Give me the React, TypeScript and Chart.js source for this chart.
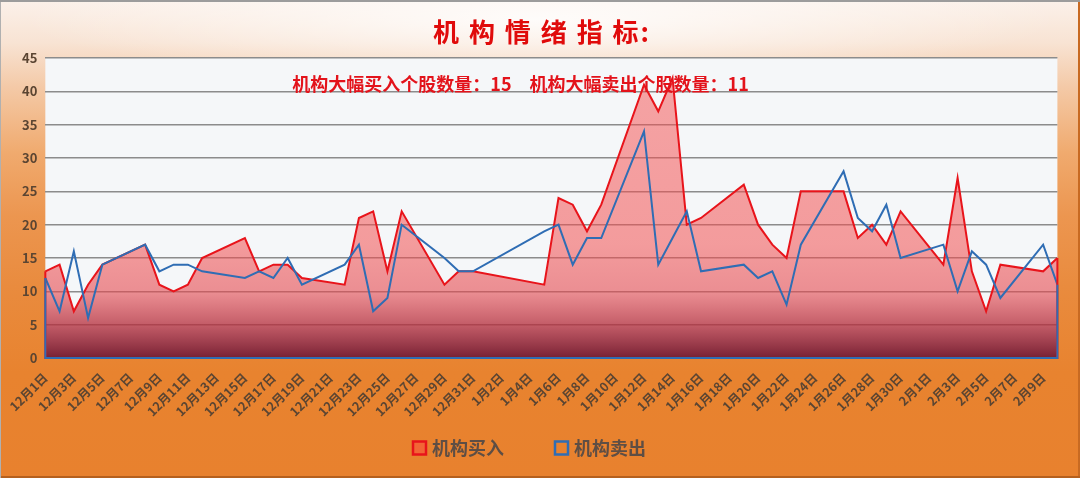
import React, { useEffect, useRef } from "react";
import { Chart, registerables } from "chart.js";

Chart.register(...registerables);

const FONT = '"Noto Sans CJK SC", "Noto Sans", sans-serif';

// Calendar days on the date axis (12月1日 … 2月10日)
const categories: string[] = [
  "12月1日", "12月2日", "12月3日", "12月4日", "12月5日", "12月6日", "12月7日", "12月8日",
  "12月9日", "12月10日", "12月11日", "12月12日", "12月13日", "12月14日", "12月15日", "12月16日",
  "12月17日", "12月18日", "12月19日", "12月20日", "12月21日", "12月22日", "12月23日", "12月24日",
  "12月25日", "12月26日", "12月27日", "12月28日", "12月29日", "12月30日", "12月31日",
  "1月1日", "1月2日", "1月3日", "1月4日", "1月5日", "1月6日", "1月7日", "1月8日",
  "1月9日", "1月10日", "1月11日", "1月12日", "1月13日", "1月14日", "1月15日", "1月16日",
  "1月17日", "1月18日", "1月19日", "1月20日", "1月21日", "1月22日", "1月23日", "1月24日",
  "1月25日", "1月26日", "1月27日", "1月28日", "1月29日", "1月30日", "1月31日",
  "2月1日", "2月2日", "2月3日", "2月4日", "2月5日", "2月6日", "2月7日", "2月8日",
  "2月9日", "2月10日",
];

// 机构买入 (null = no trading day)
const buyValues: (number | null)[] = [
  13, 14, 7, 11, 14, null, null, 17,
  11, 10, 11, 15, null, null, 18, 13,
  14, 14, 12, null, null, 11, 21, 22,
  13, 22, null, null, 11, 13, 13,
  null, null, null, null, 11, 24, 23, 19,
  23, null, null, 41, 37, 42, 20, 21,
  null, null, 26, 20, 17, 15, 25, null,
  null, 25, 18, 20, 17, 22, null,
  null, 14, 27, 13, 7, 14, null, null,
  13, 15,
];

// 机构卖出
const sellValues: (number | null)[] = [
  12, 7, 16, 6, 14, null, null, 17,
  13, 14, 14, 13, null, null, 12, 13,
  12, 15, 11, null, null, 14, 17, 7,
  9, 20, null, null, 15, 13, 13,
  null, null, null, null, 19, 20, 14, 18,
  18, null, null, 34, 14, 18, 22, 13,
  null, null, 14, 12, 13, 8, 17, null,
  null, 28, 21, 19, 23, 15, null,
  null, 17, 10, 16, 14, 9, null, null,
  17, 11,
];

const seriesNames: string[] = ["机构买入", "机构卖出"];
const titleText = "机 构 情 绪 指 标:";
const notePrefixes: string[] = ["机构大幅买入个股数量：", "机构大幅卖出个股数量："];

const lastValue = (arr: (number | null)[]) => {
  for (let i = arr.length - 1; i >= 0; i--) if (arr[i] != null) return arr[i];
  return null;
};

const plotBgPlugin = {
  id: "plotBg",
  beforeDraw(chart: any) {
    const { ctx, chartArea: a } = chart;
    if (!a) return;
    ctx.save();
    ctx.fillStyle = "#F5F7F9";
    ctx.fillRect(a.left, a.top, a.right - a.left, a.bottom - a.top);
    ctx.restore();
  },
};

const areaEdgesPlugin = {
  id: "areaEdges",
  afterDatasetsDraw(chart: any) {
    const { ctx } = chart;
    const base = chart.scales.y.getPixelForValue(0);
    chart.data.datasets.forEach((ds: any, i: number) => {
      const meta = chart.getDatasetMeta(i);
      const pts = meta.data.filter((_: any, j: number) => ds.data[j] != null);
      if (!pts.length) return;
      const f = pts[0];
      const l = pts[pts.length - 1];
      ctx.save();
      ctx.strokeStyle = ds.borderColor;
      ctx.lineWidth = 2;
      ctx.beginPath();
      ctx.moveTo(f.x, f.y);
      ctx.lineTo(f.x, base);
      ctx.lineTo(l.x, base);
      ctx.lineTo(l.x, l.y);
      ctx.stroke();
      ctx.restore();
    });
  },
};

const legendFills: string[] = ["rgba(250,80,60,0.55)", "rgba(0,0,0,0)"];

const legendPlugin = {
  id: "boxLegend",
  afterDraw(chart: any) {
    const { ctx, width } = chart;
    const y = 448;
    const box = 13;
    const x0 = width / 2 - 127;
    const step = 142;
    chart.data.datasets.forEach((ds: any, i: number) => {
      const x = x0 + i * step;
      ctx.save();
      ctx.lineWidth = 2.5;
      ctx.strokeStyle = ds.borderColor;
      ctx.fillStyle = legendFills[i];
      ctx.fillRect(x, y - box / 2, box, box);
      ctx.strokeRect(x, y - box / 2, box, box);
      ctx.font = `bold 18px ${FONT}`;
      ctx.fillStyle = "#5E4E44";
      ctx.textAlign = "left";
      ctx.textBaseline = "middle";
      ctx.fillText(ds.label, x + 19, y);
      ctx.restore();
    });
  },
};

const textPlugin = {
  id: "texts",
  afterDraw(chart: any) {
    const { ctx, chartArea: a, width } = chart;
    ctx.save();
    ctx.fillStyle = "#E00B0B";
    ctx.font = `bold 26px ${FONT}`;
    ctx.textAlign = "center";
    ctx.textBaseline = "middle";
    ctx.letterSpacing = "2px";
    ctx.fillText(titleText, width / 2 + 2, 32);
    ctx.letterSpacing = "0px";
    const note =
      notePrefixes[0] + lastValue(buyValues) + "\u3000" + notePrefixes[1] + lastValue(sellValues);
    ctx.font = `bold 18px ${FONT}`;
    ctx.fillStyle = "#E3131B";
    ctx.textAlign = "left";
    ctx.fillText(note, a.left + 247, a.top + 26);
    ctx.restore();
  },
};

export default function App() {
  const canvasRef = useRef<HTMLCanvasElement | null>(null);

  useEffect(() => {
    if (!canvasRef.current) return;
    const tickColor = "#5B4532";
    const chart = new Chart(canvasRef.current, {
      type: "line",
      data: {
        labels: categories,
        datasets: [
          {
            label: seriesNames[0],
            data: buyValues,
            borderColor: "#E8141B",
            borderWidth: 2,
            pointRadius: 0,
            tension: 0,
            spanGaps: true,
            fill: "origin",
            order: 1,
            backgroundColor: (c: any) => {
              const area = c.chart.chartArea;
              if (!area) return "rgba(240,90,90,0.5)";
              const g = c.chart.ctx.createLinearGradient(0, area.top, 0, area.bottom);
              g.addColorStop(0, "rgba(245,80,80,0.5)");
              g.addColorStop(0.62, "rgba(242,78,78,0.54)");
              g.addColorStop(0.78, "rgba(228,72,78,0.6)");
              g.addColorStop(0.89, "rgba(180,48,62,0.78)");
              g.addColorStop(1, "rgba(112,20,40,0.94)");
              return g;
            },
          },
          {
            label: seriesNames[1],
            data: sellValues,
            borderColor: "#2F6DB4",
            borderWidth: 2,
            pointRadius: 0,
            tension: 0,
            spanGaps: true,
            fill: false,
            order: 0,
          },
        ],
      },
      options: {
        animation: false,
        responsive: false,
        maintainAspectRatio: false,
        layout: { padding: { top: 58, left: 0, right: 13, bottom: 60 } },
        plugins: {
          tooltip: { enabled: false },
          title: { display: false },
          legend: { display: false },
        },
        scales: {
          x: {
            type: "category",
            offset: false,
            grid: { display: false, drawTicks: false },
            border: { display: false },
            ticks: {
              autoSkip: false,
              minRotation: 45,
              maxRotation: 45,
              padding: 12,
              color: tickColor,
              font: { family: FONT, size: 12.5, weight: "bold" },
              callback: (_v: any, i: number) => (i % 2 === 0 ? categories[i] : ""),
            },
            afterFit: (s: any) => {
              s.height = 60;
            },
          },
          y: {
            min: 0,
            max: 45,
            ticks: {
              stepSize: 5,
              padding: 8,
              color: tickColor,
              font: { family: FONT, size: 13, weight: "bold" },
            },
            grid: { color: "#8C8C8C", lineWidth: 1.5, drawTicks: false },
            border: { display: false },
            afterFit: (s: any) => {
              s.width = 44;
            },
          },
        },
      } as any,
      plugins: [plotBgPlugin, areaEdgesPlugin, textPlugin, legendPlugin],
    });
    return () => chart.destroy();
  }, []);

  return (
    <div
      style={{
        position: "absolute",
        left: 0,
        top: 0,
        width: 1080,
        height: 478,
        overflow: "hidden",
        background:
          "radial-gradient(ellipse 48% 13% at 50% 4%, rgba(255,255,255,0.85), rgba(255,255,255,0)), linear-gradient(180deg, #FBF1EA 0%, #F8E3D3 9%, #F4CAA8 18%, #F0AA6E 32%, #EC9650 45%, #E98B3E 60%, #E8832F 78%, #E8812E 100%)",
        boxShadow:
          "inset 0 2px 0 #9C9C9C, inset 1px 0 0 #B0B0B0, inset 0 -2px 0 #B5601E, inset -2px 0 0 #C86A22",
      }}
    >
      <canvas ref={canvasRef} width={1080} height={478} style={{ display: "block" }} />
    </div>
  );
}
